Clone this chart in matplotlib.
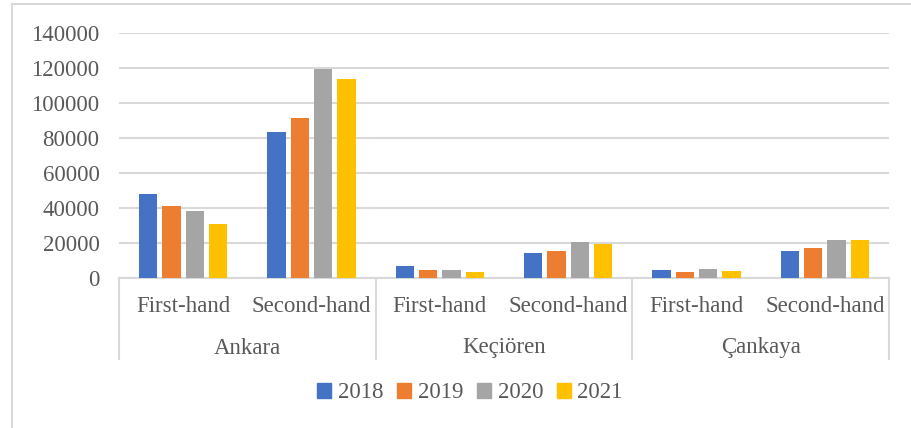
import numpy as np
import matplotlib
matplotlib.use("Agg")
import matplotlib.pyplot as plt
from matplotlib.patches import Patch
from matplotlib.lines import Line2D

# data
regions = ["Ankara", "Keçiören", "Çankaya"]
sub_labels = ["First-hand", "Second-hand"]
years = ["2018", "2019", "2020", "2021"]
colors = ["#4472C4", "#ED7D31", "#A5A5A5", "#FFC000"]

v2018 = [48000, 83500, 6900, 14500, 4500, 15300]
v2019 = [41200, 91500, 4500, 15500, 3700, 16900]
v2020 = [38100, 119300, 4400, 20400, 5100, 21600]
v2021 = [30900, 113500, 3400, 19400, 3900, 22000]
series = [v2018, v2019, v2020, v2021]

plt.rcParams["font.family"] = ["Liberation Serif", "DejaVu Serif"]
txt = "#595959"
grid_c = "#D9D9D9"
fs = 16.5

fig = plt.figure(figsize=(9.11, 4.28), dpi=100)
ax = fig.add_axes([119 / 911, 1 - 278 / 428, 770 / 911, 245 / 428])

n = len(v2018)
x = np.arange(n)
pitch = 0.182
for i, (vals, col) in enumerate(zip(series, colors)):
    ax.bar(x + (i - 1.5) * pitch, vals, width=0.142, color=col, zorder=3,
           label=years[i])

ax.set_xlim(-0.5, n - 0.5)
ax.set_ylim(0, 140000)
ax.set_yticks(np.arange(0, 140001, 20000))
ax.tick_params(axis="y", length=0, labelsize=fs, labelcolor=txt, pad=14)
ax.set_xticks([])
ax.grid(axis="y", color=grid_c, linewidth=1.5, zorder=0)
for s in ["top", "right", "left"]:
    ax.spines[s].set_visible(False)
ax.spines["bottom"].set_color(grid_c)
ax.spines["bottom"].set_linewidth(1.5)

# two-level category axis
trans = ax.get_xaxis_transform()
for k, lab in enumerate(sub_labels * len(regions)):
    ax.text(k, -28 / 245, lab, transform=trans, ha="center", va="center",
            fontsize=fs, color=txt)
for g, reg in enumerate(regions):
    ax.text(2 * g + 0.5, -70 / 245, reg, transform=trans, ha="center",
            va="center", fontsize=fs, color=txt)
for b in np.arange(-0.5, n, 2):
    ax.add_line(Line2D([b, b], [0, -81 / 245], transform=trans, color=grid_c,
                       linewidth=1.5, clip_on=False))

# chart border (left and top visible)
fig.add_artist(Line2D([12 / 911, 12 / 911], [0, 1 - 4 / 428], color=grid_c,
                      linewidth=1.5, transform=fig.transFigure))
fig.add_artist(Line2D([12 / 911, 1], [1 - 4 / 428, 1 - 4 / 428], color=grid_c,
                      linewidth=1.5, transform=fig.transFigure))

handles = [Patch(color=c, label=y) for c, y in zip(colors, years)]
fig.legend(handles=handles, loc="center", bbox_to_anchor=(470 / 911, 1 - 393 / 428),
           ncol=4, frameon=False, fontsize=fs, labelcolor=txt, handlelength=0.6,
           handleheight=0.6, handletextpad=0.3, columnspacing=0.6)

fig.savefig("out.png", dpi=100)
